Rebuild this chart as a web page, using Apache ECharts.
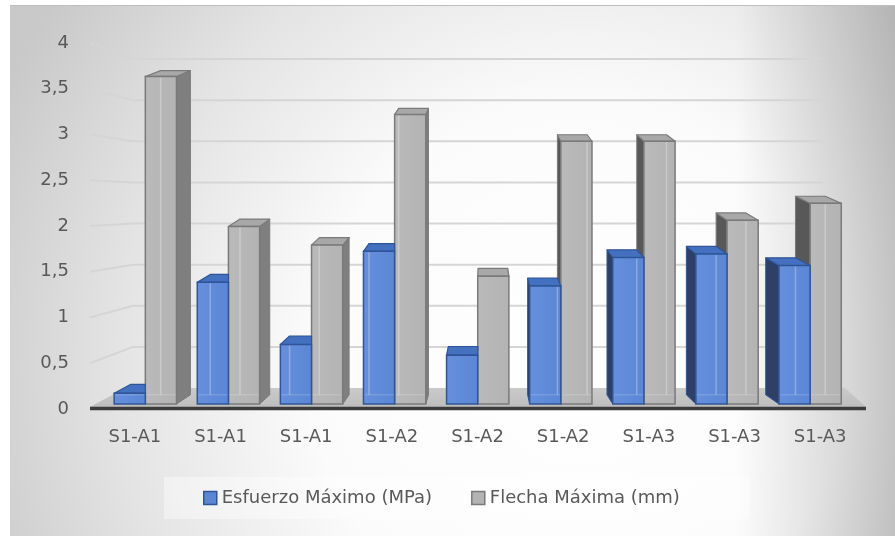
<!DOCTYPE html>
<html>
<head>
<meta charset="utf-8">
<script src="https://cdn.jsdelivr.net/npm/echarts@6/dist/echarts.min.js"></script>
<style>
  html, body { margin: 0; padding: 0; background: #ffffff; }
  #chart { width: 895px; height: 536px; }
</style>
</head>
<body>
<div id="chart"></div>
<script>
// ---- data ----
const categories = ['S1-A1', 'S1-A1', 'S1-A1', 'S1-A2', 'S1-A2', 'S1-A2', 'S1-A3', 'S1-A3', 'S1-A3'];
const esfuerzoMaximo = [0.12, 1.37, 0.67, 1.72, 0.55, 1.33, 1.65, 1.69, 1.56];
const flechaMaxima = [3.69, 2.0, 1.79, 3.26, 1.44, 2.96, 2.96, 2.07, 2.26];
const yTicks = [0, 0.5, 1, 1.5, 2, 2.5, 3, 3.5, 4];
const yTickLabels = ['0', '0,5', '1', '1,5', '2', '2,5', '3', '3,5', '4'];
const seriesNames = ['Esfuerzo Máximo (MPa)', 'Flecha Máxima (mm)'];

// ---- styling ----
const FONT = 'DejaVu Sans';
const TEXT = '#595959';
const PAL = {
  blue: { front: '#5a86d5', frontHi: '#6690dc', edge: '#2f5597', top: '#4470c0', side: '#2e4068' },
  gray: { front: '#b3b3b3', frontHi: '#bababa', edge: '#7a7a7a', top: '#a8a8a8', sideR: '#7f7f7f', sideL: '#585858' }
};

// ---- pseudo-3D helpers ----
const VX = 485;          // column the boxes converge towards
const VY = 241;
const BAR_PLANE = 0.97;  // boxes sit slightly behind the label plane
function toBarPlane(p) {
  return [VX + (p[0] - VX) * BAR_PLANE, VY + (p[1] - VY) * BAR_PLANE];
}
function backOffset(x, y) {
  return [(VX - x) * 0.045, -(5.5 + (y - 43) * 0.01)];
}

// back wall, side wall and floor of the box
function renderWalls(params, api) {
  const cs = params.coordSys;
  const v = api.value(1);
  const y0 = api.coord([0, 0])[1];
  const fy = api.coord([0, v])[1];
  const backBase = y0 - 21;
  const by = backBase + (fy - y0) * 0.8986;
  const xl = cs.x - 2;
  const xb = cs.x + 41;
  const xr = cs.x + cs.width - 40;
  const children = [];
  if (v > 0) {
    children.push({
      type: 'polyline',
      shape: { points: [[xl, fy], [xb, by], [xr, by]] },
      style: { stroke: '#d5d5d5', lineWidth: 2, fill: null }
    });
  } else {
    const fl = cs.x - 2, fr = cs.x + cs.width + 3;
    children.push({
      type: 'polygon',
      shape: { points: [[fl, y0 - 2], [fr, y0 - 2], [fr - 21, backBase], [fl + 35, backBase]] },
      style: {
        fill: new echarts.graphic.LinearGradient(0, 0, 0, 1, [
          { offset: 0, color: '#cacaca' },
          { offset: 1, color: '#bebebe' }
        ])
      }
    });
    children.push({
      type: 'line',
      shape: { x1: fl, y1: y0 - 0.5, x2: fr, y2: y0 - 0.5 },
      style: { stroke: '#3c3c3c', lineWidth: 3.5 }
    });
  }
  return { type: 'group', children: children };
}

function barRenderer(slot, pal) {
  return function (params, api) {
    const ci = api.value(0);
    const v = api.value(1);
    const band = api.size([1, 0])[0];
    const b = toBarPlane(api.coord([ci, 0]));
    const t = toBarPlane(api.coord([ci, v]));
    const w = band * 0.375 * BAR_PLANE;
    const x0 = slot === 0 ? b[0] - w : b[0];
    const x1 = x0 + w;
    const yt = t[1], yb = b[1];
    const o0t = backOffset(x0, yt), o1t = backOffset(x1, yt);
    const o0b = backOffset(x0, yb), o1b = backOffset(x1, yb);
    const leftHalf = o1t[0] > 0.5;
    const rightHalf = o0t[0] < -0.5;
    const children = [];

    // side face
    if (leftHalf && slot === 1) {
      children.push({
        type: 'polygon',
        shape: { points: [[x1, yt], [x1 + o1t[0], yt + o1t[1]], [x1 + o1b[0], yb + o1b[1]], [x1, yb]] },
        style: { fill: pal.sideR, stroke: pal.edge, lineWidth: 1 }
      });
    }
    if (rightHalf) {
      children.push({
        type: 'polygon',
        shape: { points: [[x0, yt], [x0 + o0t[0], yt + o0t[1]], [x0 + o0b[0], yb + o0b[1]], [x0, yb]] },
        style: { fill: slot === 0 ? pal.side : pal.sideL, stroke: pal.edge, lineWidth: 1 }
      });
    }

    // top face
    let topPts;
    if (leftHalf && slot === 0) {
      topPts = [[x0, yt], [x1, yt], [x1, yt + o1t[1]], [x0 + o0t[0], yt + o0t[1]]];
    } else {
      topPts = [[x0, yt], [x1, yt], [x1 + o1t[0], yt + o1t[1]], [x0 + o0t[0], yt + o0t[1]]];
    }
    children.push({
      type: 'polygon',
      shape: { points: topPts },
      style: { fill: pal.top, stroke: pal.edge, lineWidth: 1.2, lineJoin: 'round' }
    });

    // front face
    children.push({
      type: 'rect',
      shape: { x: x0, y: yt, width: w, height: yb - yt },
      style: {
        fill: new echarts.graphic.LinearGradient(0, 0, 1, 0, [
          { offset: 0, color: pal.frontHi },
          { offset: 1, color: pal.front }
        ]),
        stroke: pal.edge,
        lineWidth: 1.5
      }
    });

    // rear edge seen through the face
    let ex = null, eyt, eyb;
    if (leftHalf) { ex = x0 + o0t[0]; eyt = yt + o0t[1]; eyb = yb + o0b[1]; }
    else if (rightHalf) { ex = x1 + o1t[0]; eyt = yt + o1t[1]; eyb = yb + o1b[1]; }
    if (ex !== null && ex > x0 + 1 && ex < x1 - 1) {
      children.push({
        type: 'line',
        shape: { x1: ex, y1: Math.max(eyt, yt + 1), x2: ex, y2: eyb },
        style: { stroke: 'rgba(255,255,255,0.28)', lineWidth: 1.5 }
      });
      children.push({
        type: 'line',
        shape: { x1: x0 + 1, y1: eyb, x2: x1 - 1, y2: eyb },
        style: { stroke: 'rgba(255,255,255,0.22)', lineWidth: 1 }
      });
    }
    return { type: 'group', children: children };
  };
}

const chart = echarts.init(document.getElementById('chart'), null, { renderer: 'canvas' });

chart.setOption({
  animation: false,
  graphic: {
    elements: [
      {
        // soft radial light, brightest low and right of centre
        type: 'rect', z: -100, silent: true,
        shape: { x: 10, y: 5, width: 885, height: 531 },
        style: {
          fill: new echarts.graphic.RadialGradient(580, 370, 640, [
            { offset: 0, color: '#ffffff' },
            { offset: 0.42, color: '#fbfbfb' },
            { offset: 0.72, color: '#e4e4e4' },
            { offset: 1, color: '#c9c9c9' }
          ], true)
        }
      },
      {
        // darker rim on the right
        type: 'rect', z: -99, silent: true,
        shape: { x: 10, y: 5, width: 885, height: 531 },
        style: {
          fill: new echarts.graphic.LinearGradient(0, 0, 1, 0, [
            { offset: 0, color: 'rgba(0,0,0,0)' },
            { offset: 0.82, color: 'rgba(0,0,0,0)' },
            { offset: 1, color: 'rgba(0,0,0,0.2)' }
          ])
        }
      },
      {
        type: 'line', z: -98, silent: true,
        shape: { x1: 10, y1: 5.5, x2: 895, y2: 5.5 },
        style: { stroke: '#bdbdbd', lineWidth: 1 }
      }
    ]
  },
  grid: { left: 92, right: 32, top: 43, bottom: 127 },
  legend: {
    left: 164,
    top: 477,
    padding: [12, 70, 12, 39],
    backgroundColor: 'rgba(255,255,255,0.4)',
    itemWidth: 13,
    itemHeight: 13,
    itemGap: 39,
    textStyle: { fontFamily: FONT, fontSize: 18, color: TEXT },
    data: [
      { name: seriesNames[0], icon: 'rect', itemStyle: { color: PAL.blue.front, borderColor: PAL.blue.edge, borderWidth: 1.5 } },
      { name: seriesNames[1], icon: 'rect', itemStyle: { color: PAL.gray.front, borderColor: PAL.gray.edge, borderWidth: 1.5 } }
    ]
  },
  xAxis: {
    type: 'category',
    data: categories,
    axisLine: { show: false },
    axisTick: { show: false },
    splitLine: { show: false },
    axisLabel: { interval: 0, margin: 19, fontFamily: FONT, fontSize: 18, color: TEXT }
  },
  yAxis: {
    type: 'value',
    min: 0,
    max: 4,
    interval: 0.5,
    axisLine: { show: false },
    axisTick: { show: false },
    splitLine: { show: false },
    axisLabel: {
      margin: 23, fontFamily: FONT, fontSize: 18, color: TEXT,
      formatter: function (v) { return yTickLabels[Math.round(v / 0.5)]; }
    }
  },
  series: [
    {
      name: 'walls',
      type: 'custom',
      silent: true,
      z: 1,
      clip: false,
      renderItem: renderWalls,
      encode: { x: 0, y: 1 },
      data: yTicks.map(function (v) { return [0, v]; })
    },
    {
      name: seriesNames[1],
      type: 'custom',
      z: 2,
      clip: false,
      itemStyle: { color: PAL.gray.front, borderColor: PAL.gray.edge },
      renderItem: barRenderer(1, PAL.gray),
      encode: { x: 0, y: 1 },
      data: flechaMaxima.map(function (v, i) { return [i, v]; })
    },
    {
      name: seriesNames[0],
      type: 'custom',
      z: 3,
      clip: false,
      itemStyle: { color: PAL.blue.front, borderColor: PAL.blue.edge },
      renderItem: barRenderer(0, PAL.blue),
      encode: { x: 0, y: 1 },
      data: esfuerzoMaximo.map(function (v, i) { return [i, v]; })
    }
  ]
});
</script>
</body>
</html>
